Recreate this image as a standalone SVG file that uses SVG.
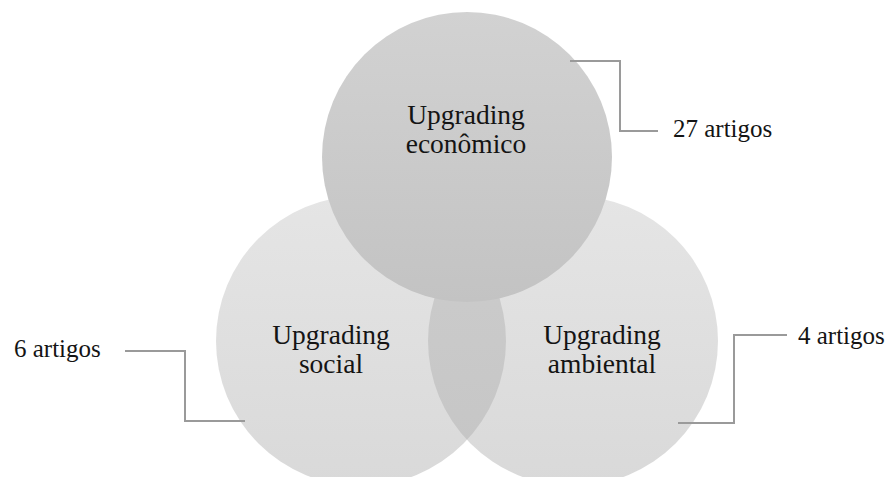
<svg xmlns="http://www.w3.org/2000/svg" width="895" height="477" viewBox="0 0 895 477">
  <style>
    .lbl { font-family: "Liberation Serif", "Times New Roman", serif; font-size: 27.5px; fill: #141414; text-anchor: middle; }
    .cnt { font-family: "Liberation Serif", "Times New Roman", serif; font-size: 25px; fill: #141414; }
    .conn { fill: none; stroke: #9a9a9a; stroke-width: 2; }
  </style>
  <defs>
    <linearGradient id="gTop" x1="0" y1="0" x2="0" y2="1">
      <stop offset="0" stop-color="#d2d2d2"/>
      <stop offset="1" stop-color="#c3c3c3"/>
    </linearGradient>
    <linearGradient id="gSide" x1="0" y1="0" x2="0" y2="1">
      <stop offset="0" stop-color="#e5e5e5"/>
      <stop offset="1" stop-color="#d9d9d9"/>
    </linearGradient>
    <linearGradient id="gLens" x1="0" y1="0" x2="0" y2="1">
      <stop offset="0" stop-color="#cdcdcd"/>
      <stop offset="1" stop-color="#c5c5c5"/>
    </linearGradient>
    <clipPath id="clipLeft">
      <circle cx="361" cy="341" r="145"/>
    </clipPath>
  </defs>

  <rect width="895" height="477" fill="#ffffff"/>

  <g id="node-social">
    <circle cx="361" cy="341" r="145" fill="url(#gSide)"/>
  </g>
  <g id="node-ambiental">
    <circle cx="573" cy="341" r="145" fill="url(#gSide)"/>
    <!-- overlap of social and ambiental -->
    <circle cx="573" cy="341" r="145" fill="url(#gLens)" clip-path="url(#clipLeft)"/>
  </g>
  <g id="node-economico">
    <circle cx="467" cy="157" r="145" fill="url(#gTop)"/>
  </g>

  <g id="labels">
    <text class="lbl" x="466" y="124">Upgrading</text>
    <text class="lbl" x="466" y="153">econômico</text>
    <text class="lbl" x="331" y="344">Upgrading</text>
    <text class="lbl" x="331" y="373">social</text>
    <text class="lbl" x="602" y="344">Upgrading</text>
    <text class="lbl" x="602" y="373">ambiental</text>
  </g>

  <g id="connectors">
    <polyline class="conn" points="570,61 620,61 620,131 658,131"/>
    <polyline class="conn" points="125,351 185,351 185,421 245,421"/>
    <polyline class="conn" points="787,335 734,335 734,423 678,423"/>
  </g>

  <g id="counts">
    <text class="cnt" x="673" y="137">27 artigos</text>
    <text class="cnt" x="14" y="357">6 artigos</text>
    <text class="cnt" x="798" y="344">4 artigos</text>
  </g>
</svg>
